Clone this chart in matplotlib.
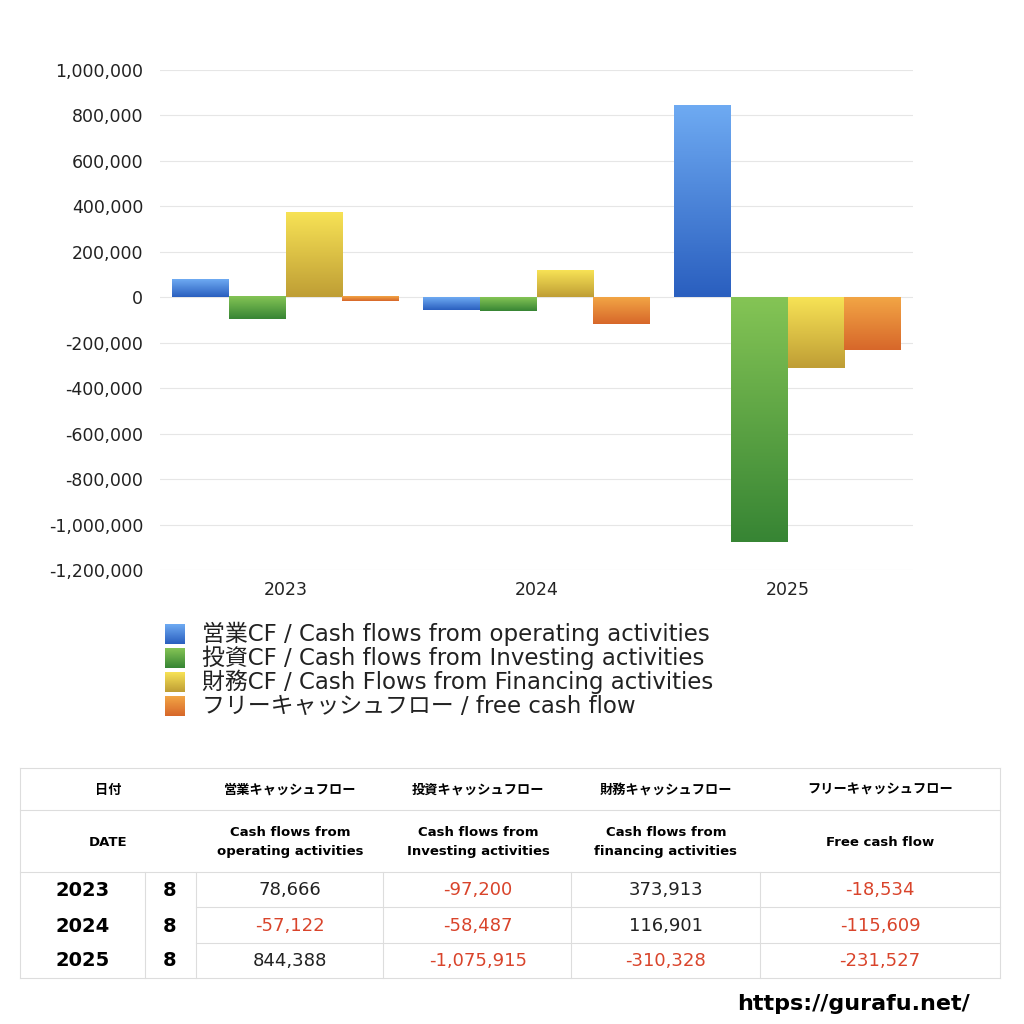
import numpy as np
import matplotlib.pyplot as plt
from matplotlib.colors import LinearSegmentedColormap
from matplotlib.lines import Line2D

plt.rcParams['font.family'] = ['DejaVu Sans', 'Noto Sans CJK JP']

years = ['2023', '2024', '2025']
operating = [78666, -57122, 844388]
investing = [-97200, -58487, -1075915]
financing = [373913, 116901, -310328]
free_cf = [-18534, -115609, -231527]

series_labels = ['営業CF / Cash flows from operating activities',
                 '投資CF / Cash flows from Investing activities',
                 '財務CF / Cash Flows from Financing activities',
                 'フリーキャッシュフロー / free cash flow']
# (top colour, bottom colour)
grads = [('#6eaaf2', '#2a5fbf'), ('#84c455', '#378534'),
         ('#f7e255', '#bf9e35'), ('#f2a545', '#d7672a')]

fig = plt.figure(figsize=(10.24, 10.24), dpi=100)
ax = fig.add_axes([160/1024, 1-570/1024, 753/1024, 500/1024])

w = 0.227
allvals = [operating, investing, financing, free_cf]
for i, vals in enumerate(allvals):
    cmap = LinearSegmentedColormap.from_list('g%d' % i, [grads[i][1], grads[i][0]])
    grad = np.linspace(0, 1, 100).reshape(-1, 1)
    for j, v in enumerate(vals):
        x0 = j + (i - 1.5) * w - w / 2
        lo, hi = min(0, v), max(0, v)
        ax.imshow(grad, cmap=cmap, origin='lower', aspect='auto',
                  extent=(x0, x0 + w, lo, hi), zorder=3)
ax.set_xlim(-0.5, 2.5)
ax.set_ylim(-1200000, 1000000)

ax.set_yticks(np.arange(-1200000, 1000001, 200000))
ax.yaxis.set_major_formatter(plt.FuncFormatter(lambda x, loc: "{:,}".format(int(x))))
ax.set_xticks(range(3))
ax.set_xticklabels(years)
ax.tick_params(length=0, labelsize=12.5, colors='#222222')
ax.tick_params(axis='y', pad=12)
ax.tick_params(axis='x', pad=8)
ax.grid(axis='y', color='#e6e6e6', lw=0.8, zorder=0)
for s in ax.spines.values():
    s.set_visible(False)

# legend
for i, lab in enumerate(series_labels):
    yc = 1 - (634 + i * 24) / 1024
    cmap = LinearSegmentedColormap.from_list('l%d' % i, [grads[i][1], grads[i][0]])
    lax = fig.add_axes([165/1024, yc - 10/1024, 20/1024, 20/1024])
    lax.imshow(np.linspace(0, 1, 50).reshape(-1, 1), cmap=cmap, origin='lower', aspect='auto')
    lax.axis('off')
    fig.text(202/1024, yc, lab, fontsize=16.5, va='center', color='#222222')

# table
def fx(px):
    return px / 1024

def fy(py):
    return 1 - py / 1024

lc = '#dddddd'
def hline(y, x0, x1):
    fig.add_artist(Line2D([fx(x0), fx(x1)], [fy(y), fy(y)], color=lc, lw=0.8))

def vline(x, y0, y1):
    fig.add_artist(Line2D([fx(x), fx(x)], [fy(y0), fy(y1)], color=lc, lw=0.8))

hline(768, 20, 1000)
hline(810, 20, 1000)
hline(872, 20, 1000)
hline(907, 196, 1000)
hline(943, 196, 1000)
hline(978, 20, 1000)
vline(20, 768, 978)
vline(1000, 768, 978)
for x in [145, 196, 383, 571, 760]:
    vline(x, 872, 978)

heads_jp = ['日付', '営業キャッシュフロー', '投資キャッシュフロー', '財務キャッシュフロー', 'フリーキャッシュフロー']
heads_en = ['DATE', 'Cash flows from\noperating activities', 'Cash flows from\nInvesting activities',
            'Cash flows from\nfinancing activities', 'Free cash flow']
hx = [108, 290, 478, 666, 880]
for x, a, b in zip(hx, heads_jp, heads_en):
    fig.text(fx(x), fy(790), a, ha='center', va='center', fontsize=9.5, fontweight='bold')
    fig.text(fx(x), fy(842), b, ha='center', va='center', fontsize=9.5, linespacing=1.6,
             fontweight='semibold')

months = ['8', '8', '8']
cx = [290, 478, 666, 880]
rows_y = [890, 926, 961]
for r, y in enumerate(years):
    fig.text(fx(83), fy(rows_y[r]), y, ha='center', va='center', fontsize=14, fontweight='bold')
    fig.text(fx(170), fy(rows_y[r]), months[r], ha='center', va='center', fontsize=14, fontweight='bold')
    for c, vals in enumerate(allvals):
        v = vals[r]
        fig.text(fx(cx[c]), fy(rows_y[r]), "{:,}".format(v), ha='center', va='center',
                 fontsize=13, color='#d9442b' if v < 0 else '#222222')

fig.text(fx(970), fy(1004), 'https://gurafu.net/', ha='right', va='center', fontsize=16,
         fontweight='semibold')

fig.savefig('out.png', dpi=100)
